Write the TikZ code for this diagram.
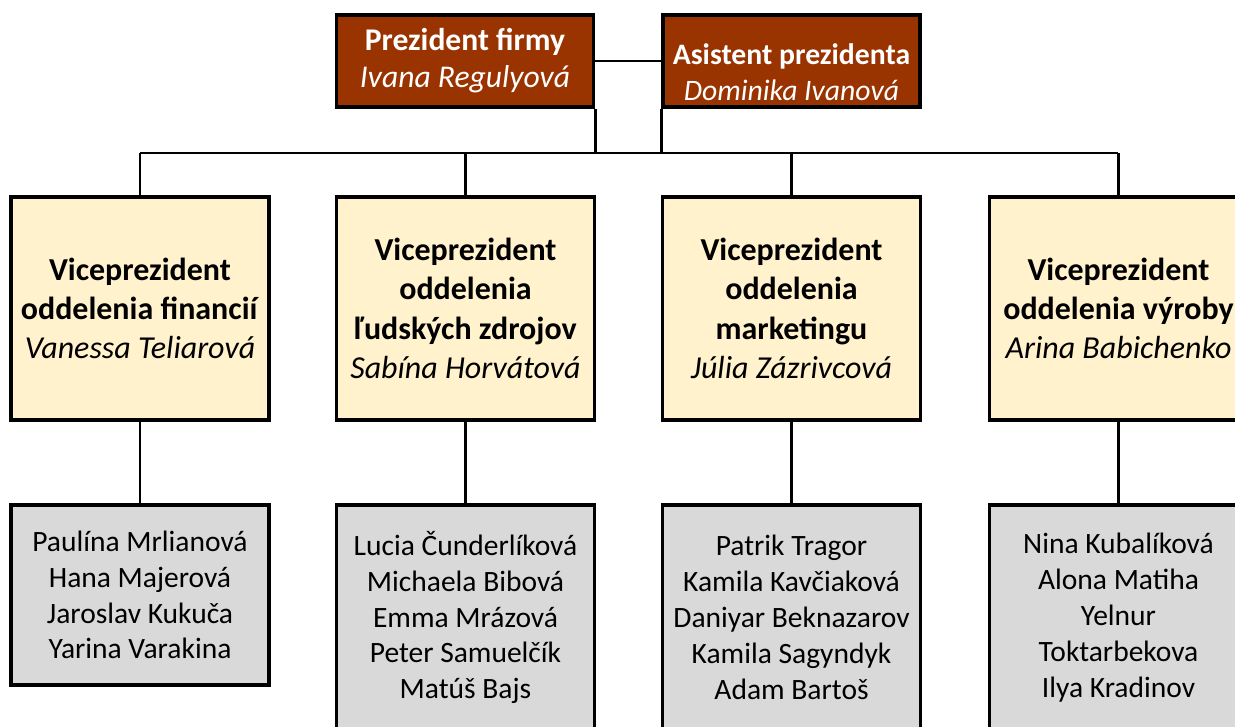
\documentclass[tikz,border=0pt]{standalone}
\usepackage{fontspec}
\setmainfont{Carlito}
\definecolor{bossred}{HTML}{993300}
\definecolor{vpyellow}{HTML}{FFF2CC}
\definecolor{teamgray}{HTML}{D9D9D9}

\begin{document}
\begin{tikzpicture}[x=0.02cm, y=-0.02cm]
				\tikzstyle{every node}=[inner sep=2pt, align=center]
				\tikzstyle{boss}=[draw, line width=2.2pt, fill=bossred, text=white, minimum width=5.14cm, minimum height=1.84cm, font=\fontsize{18}{21}\selectfont]
				\tikzstyle{asistext}=[text=white, inner sep=0pt, yshift=-0.22cm, font=\fontsize{16.9}{20.4}\selectfont]
				\tikzstyle{vp}=[draw, line width=2.2pt, fill=vpyellow, minimum width=5.16cm, minimum height=4.46cm, font=\fontsize{18.2}{22.4}\selectfont]
				\tikzstyle{team}=[draw, line width=2.2pt, fill=teamgray, minimum width=5.16cm, font=\fontsize{16.8}{20.4}\selectfont]
				\tikzstyle{link}=[line width=1.7pt]
				\path[use as bounding box, clip] (0,0) rectangle (1235,727);
				% top
				\node[boss] (pres) at (465,61) {\textbf{Prezident firmy}\\\textit{Ivana Regulyová}};
				\node[boss, label={[asistext]center:{\textbf{Asistent prezidenta}\\\textit{Dominika Ivanová}}}] (asis) at (791.5,61) {};
				\coordinate (busL) at (140,153);
				\coordinate (busR) at (1118,153);
				% vice presidents
				\node[vp] (vp1) at (140,308.5) {\textbf{Viceprezident}\\\textbf{oddelenia financií}\\\textit{Vanessa Teliarová}};
				\node[vp] (vp2) at (465.5,308.5) {\textbf{Viceprezident}\\\textbf{oddelenia}\\\textbf{ľudských zdrojov}\\\textit{Sabína Horvátová}};
				\node[vp] (vp3) at (791.5,308.5) {\textbf{Viceprezident}\\\textbf{oddelenia}\\\textbf{marketingu}\\\textit{Júlia Zázrivcová}};
				\node[vp] (vp4) at (1118.5,308.5) {\textbf{Viceprezident}\\\textbf{oddelenia výroby}\\\textit{Arina Babichenko}};
				% teams
				\node[team, minimum height=3.6cm] (team1) at (140,595) {Paulína Mrlianová\\Hana Majerová\\Jaroslav Kukuča\\Yarina Varakina};
				\node[team, minimum height=4.5cm] (team2) at (465.5,617.5) {Lucia Čunderlíková\\Michaela Bibová\\Emma Mrázová\\Peter Samuelčík\\Matúš Bajs};
				\node[team, minimum height=4.5cm] (team3) at (791.5,617.5) {Patrik Tragor\\Kamila Kavčiaková\\Daniyar Beknazarov\\Kamila Sagyndyk\\Adam Bartoš};
				\node[team, minimum height=4.5cm] (team4) at (1118.5,617.5) {Nina Kubalíková\\Alona Matiha\\Yelnur\\Toktarbekova\\Ilya Kradinov};
				% connectors
				\draw [link] (pres) -- (asis);
				\draw [link] (pres.south east) -- (pres.south east |- busL);
				\draw [link] (asis.south west) -- (asis.south west |- busL);
				\draw [link] (busL) -- (busR);
				\foreach \i in {1,2,3,4} {
					\draw [link] (vp\i.north) -- (vp\i.north |- busL);
					\draw [link] (vp\i.south) -- (team\i.north);
				}
		\end{tikzpicture}
\end{document}
